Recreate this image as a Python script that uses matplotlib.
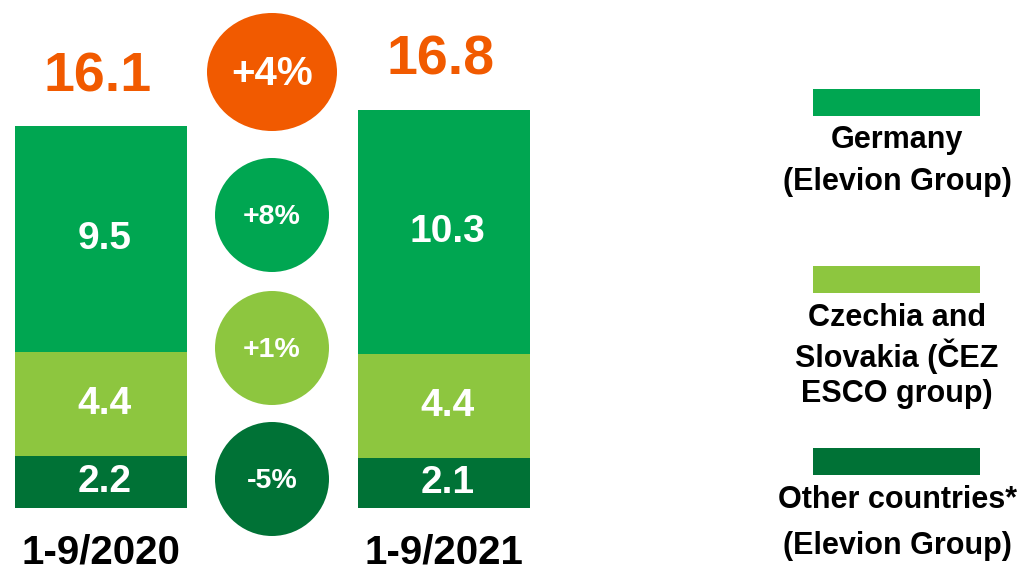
import matplotlib
matplotlib.use("Agg")
import matplotlib.pyplot as plt
from matplotlib.patches import Circle, Ellipse, Rectangle

plt.rcParams['font.family'] = ['Liberation Sans', 'DejaVu Sans']
plt.rcParams['font.weight'] = 'bold'

# data
periods = ["1-9/2020", "1-9/2021"]
other = [2.2, 2.1]
czsk = [4.4, 4.4]
germany = [9.5, 10.3]
totals = ["16.1", "16.8"]
changes = ["+4%", "+8%", "+1%", "-5%"]
legend_labels = ["Germany\n(Elevion Group)",
                 "Czechia and\nSlovakia (ČEZ\nESCO group)",
                 "Other countries*\n(Elevion Group)"]

c_germany = "#00A651"
c_czsk = "#8DC63F"
c_other = "#007236"
c_orange = "#F15A00"

W, H = 1028, 572
fig = plt.figure(figsize=(W / 100, H / 100), dpi=100)

# bar axes, in data units (approx 23.7 px per unit)
px_unit = 23.7
base_px = 508
ax = fig.add_axes([0, (H - base_px) / H, 545 / W, base_px / H])
ax.set_ylim(0, base_px / px_unit)
ax.set_xlim(-101 / 343, (545 - 101) / 343)
ax.axis('off')

x = [0, 1]
bw = 172 / 343
ax.bar(x, other, bw, color=c_other)
b2 = [o for o in other]
ax.bar(x, czsk, bw, bottom=b2, color=c_czsk)
b3 = [o + c for o, c in zip(other, czsk)]
ax.bar(x, germany, bw, bottom=b3, color=c_germany)

for i in range(2):
    ax.text(x[i] + 0.01, other[i] / 2, f"{other[i]:.1f}", color='white', fontsize=28,
            ha='center', va='center', fontweight='bold')
    ax.text(x[i] + 0.01, b2[i] + czsk[i] / 2, f"{czsk[i]:.1f}", color='white', fontsize=28,
            ha='center', va='center', fontweight='bold')
    ax.text(x[i] + 0.01, b3[i] + germany[i] / 2, f"{germany[i]:.1f}", color='white', fontsize=28,
            ha='center', va='center', fontweight='bold')
    top = b3[i] + germany[i]
    ax.text(x[i] - 0.01, top + 35 / px_unit, totals[i], color=c_orange, fontsize=40,
            ha='center', va='baseline', fontweight='bold')

# overlay in pixel coordinates for circles, year labels and legend
ov = fig.add_axes([0, 0, 1, 1])
ov.set_xlim(0, W)
ov.set_ylim(H, 0)
ov.axis('off')

circ_x = 272
ov.add_patch(Ellipse((circ_x, 72), 130, 118, color=c_orange, lw=0))
ov.text(circ_x, 74, changes[0], color='white', fontsize=29, ha='center',
        va='center', fontweight='bold')
circ = [(215, c_germany), (348, c_czsk), (479, c_other)]
for (cy, col), lab in zip(circ, changes[1:]):
    ov.add_patch(Circle((circ_x, cy), 57, color=col, lw=0))
    ov.text(circ_x, cy + 2, lab, color='white', fontsize=20.5, ha='center',
            va='center', fontweight='bold')

for xc, lab in zip([101, 444], periods):
    ov.text(xc, 553, lab, color='black', fontsize=29, ha='center',
            va='center', fontweight='bold')

# legend
leg_rect_y = [89, 266, 448]
leg_text_y = [[140, 182], [318, 356, 394], [500, 546]]
for col, ry, ty, lab in zip([c_germany, c_czsk, c_other], leg_rect_y, leg_text_y, legend_labels):
    ov.add_patch(Rectangle((813, ry), 167, 27, color=col, lw=0))
    for yy, line in zip(ty, lab.split("\n")):
        ov.text(897, yy, line, color='black', fontsize=22, ha='center',
                va='center', fontweight='bold')

fig.savefig("out.png", dpi=100)
